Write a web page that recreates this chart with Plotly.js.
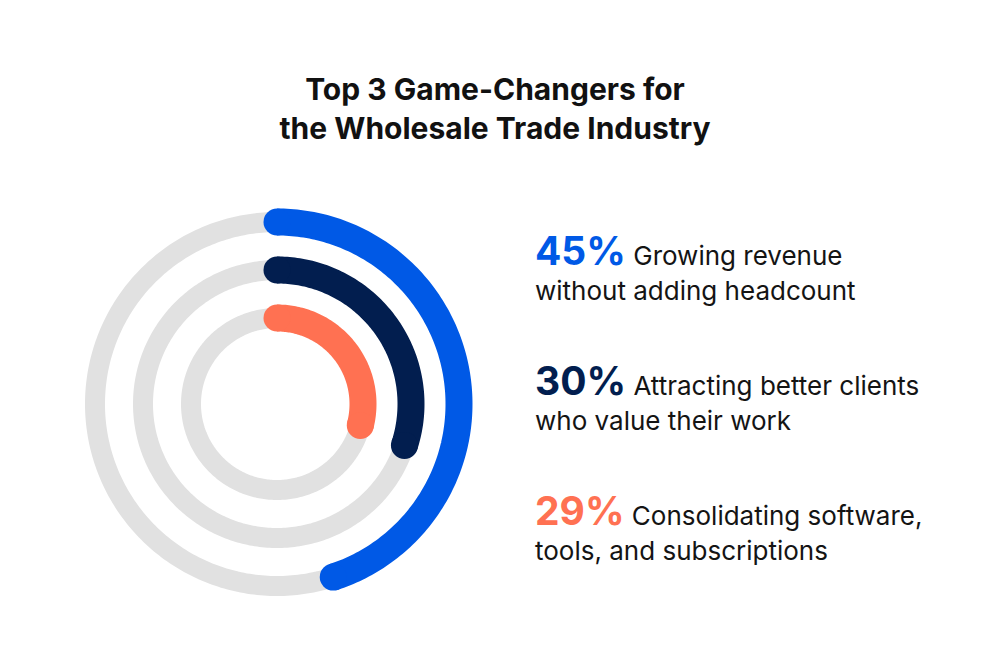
<!DOCTYPE html>
<html>
<head>
<meta charset="utf-8">
<script src="https://cdn.plot.ly/plotly-3.0.1.min.js"></script>
<style>html,body{margin:0;padding:0;background:#fff;}#chart{width:1000px;height:666px;}</style>
</head>
<body>
<div id="chart"></div>
<script>
// ---- data ----
const values = [45, 30, 29];
const pctLabels = ["45%", "30%", "29%"];
const line1 = ["Growing revenue", "Attracting better clients", "Consolidating software,"];
const line2 = ["without adding headcount", "who value their work", "tools, and subscriptions"];
const ringRadius = [182, 134, 86];
const colors = ["#0059E6", "#021E4F", "#FF7152"];
const trackColor = "#E1E1E1";
const titleText = "Top 3 Game-Changers for<br>the Wholesale Trade Industry";

const FONT = "Inter, 'Open Sans', sans-serif";

function arcThetas(deg) {
  const t = [];
  const n = Math.max(2, Math.ceil(deg));
  for (let i = 0; i <= n; i++) t.push(deg * i / n);
  return t;
}

const traces = [];
// gray tracks
ringRadius.forEach(r => {
  const th = arcThetas(360);
  traces.push({
    type: 'scatterpolar', mode: 'lines',
    r: th.map(() => r), theta: th,
    line: {color: trackColor, width: 20},
    hoverinfo: 'skip'
  });
});
// coloured arcs
values.forEach((v, i) => {
  const deg = v / 100 * 360;
  const th = arcThetas(deg);
  traces.push({
    type: 'scatterpolar', mode: 'lines',
    r: th.map(() => ringRadius[i]), theta: th,
    line: {color: colors[i], width: 27},
    hoverinfo: 'skip'
  });
  traces.push({
    type: 'scatterpolar', mode: 'markers',
    r: [ringRadius[i], ringRadius[i]], theta: [0, deg],
    marker: {color: colors[i], size: 27, line: {width: 0}},
    hoverinfo: 'skip'
  });
});

const W = 1000, H = 666;
const cx = 277, cy = 404, R = 200;

const annotations = [];
const baseY = [276, 406, 536];
const gap = 32;
values.forEach((v, i) => {
  annotations.push({
    xref: 'paper', yref: 'paper', x: 533 / W, y: 1 - baseY[i] / H,
    xanchor: 'left', yanchor: 'bottom', showarrow: false, align: 'left',
    text: "<span style='color:" + colors[i] + ";font-size:39px;font-weight:bold'>" + pctLabels[i] + "</span> " + line1[i],
    font: {family: FONT, size: 26, color: '#141414'}
  });
  annotations.push({
    xref: 'paper', yref: 'paper', x: 533 / W, y: 1 - (baseY[i] + gap) / H,
    xanchor: 'left', yanchor: 'bottom', showarrow: false, align: 'left',
    text: line2[i],
    font: {family: FONT, size: 26, color: '#141414'}
  });
});

const layout = {
  width: W, height: H,
  margin: {l: 0, r: 0, t: 0, b: 0},
  paper_bgcolor: '#fff',
  showlegend: false,
  hovermode: false,
  title: {
    text: titleText,
    x: 495 / W, xanchor: 'center',
    y: 1 - 100 / H, yanchor: 'top', yref: 'container',
    font: {family: FONT, size: 30, color: '#111', weight: 'bold'}
  },
  polar: {
    domain: {x: [(cx - R) / W, (cx + R) / W], y: [1 - (cy + R) / H, 1 - (cy - R) / H]},
    bgcolor: 'rgba(0,0,0,0)',
    radialaxis: {visible: false, range: [0, R]},
    angularaxis: {visible: false, rotation: 90, direction: 'clockwise'}
  },
  annotations: annotations
};

Plotly.newPlot('chart', traces, layout, {displayModeBar: false, staticPlot: true});
</script>
</body>
</html>
